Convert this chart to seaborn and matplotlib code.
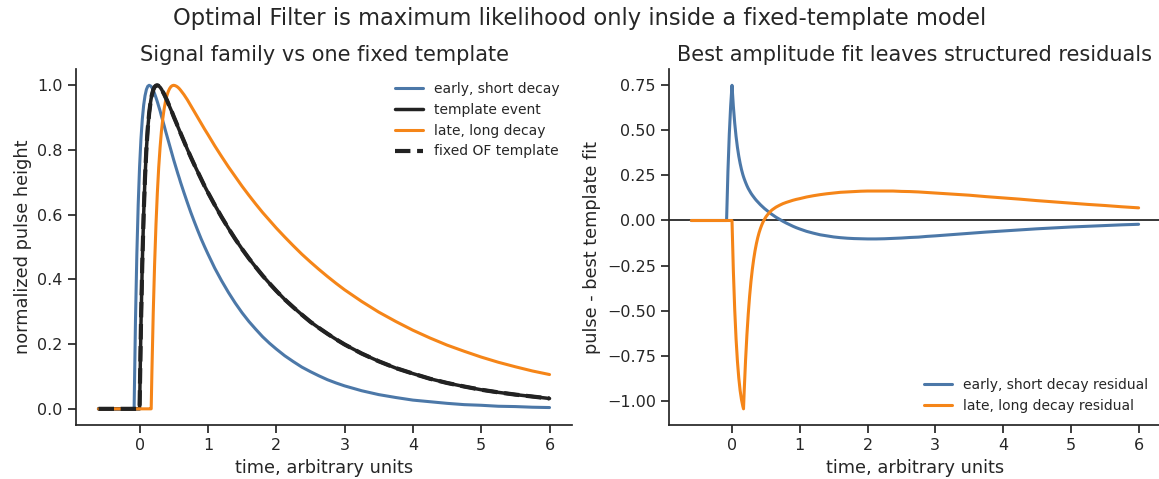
import matplotlib
matplotlib.use("Agg")
import matplotlib.pyplot as plt
import pandas as pd
import seaborn as sns

# Sample times (arbitrary units)
time_points = [-0.6, -0.08, -0.06, -0.04, -0.02, 0.0, 0.02, 0.04, 0.06, 0.08, 0.10, 0.12, 0.14, 0.16, 0.17,
               0.18, 0.20, 0.22, 0.24, 0.26, 0.28, 0.30, 0.32, 0.34, 0.36, 0.38, 0.40, 0.42, 0.44, 0.46, 0.48,
               0.50, 0.52, 0.54, 0.56, 0.58, 0.60, 0.65, 0.70, 0.75, 0.80, 0.85, 0.90, 0.95, 1.0, 1.1, 1.2,
               1.3, 1.4, 1.5, 1.6, 1.7, 1.8, 1.9, 2.0, 2.125, 2.25, 2.375, 2.5, 2.625, 2.75, 2.875, 3.0,
               3.25, 3.5, 3.75, 4.0, 4.25, 4.5, 4.75, 5.0, 5.25, 5.5, 5.75, 6.0]

# Normalized pulse shapes
early_pulse = [0, 0, 0.271, 0.477, 0.632, 0.748, 0.833, 0.895, 0.939, 0.968, 0.987, 0.997, 1.0, 0.998, 0.996,
               0.993, 0.985, 0.974, 0.962, 0.949, 0.935, 0.921, 0.905, 0.890, 0.875, 0.859, 0.844, 0.829, 0.814,
               0.799, 0.784, 0.769, 0.755, 0.741, 0.727, 0.714, 0.700, 0.668, 0.637, 0.607, 0.579, 0.552, 0.526,
               0.502, 0.479, 0.435, 0.396, 0.360, 0.327, 0.297, 0.270, 0.246, 0.223, 0.203, 0.185, 0.164, 0.146,
               0.129, 0.115, 0.102, 0.090, 0.080, 0.071, 0.056, 0.044, 0.035, 0.027, 0.022, 0.017, 0.013, 0.011,
               0.008, 0.007, 0.005, 0.004]
template_pulse = [0, 0, 0, 0, 0, 0, 0.256, 0.453, 0.603, 0.717, 0.803, 0.867, 0.913, 0.947, 0.960,
                  0.970, 0.986, 0.995, 0.999, 1.0, 0.998, 0.994, 0.988, 0.980, 0.972, 0.963, 0.954, 0.944, 0.934,
                  0.924, 0.914, 0.903, 0.893, 0.883, 0.872, 0.862, 0.852, 0.827, 0.802, 0.778, 0.755, 0.733, 0.711,
                  0.689, 0.669, 0.630, 0.593, 0.558, 0.525, 0.494, 0.465, 0.438, 0.412, 0.388, 0.365, 0.338, 0.314,
                  0.291, 0.269, 0.250, 0.232, 0.215, 0.199, 0.171, 0.147, 0.126, 0.109, 0.093, 0.080, 0.069, 0.059,
                  0.051, 0.044, 0.038, 0.032]
late_pulse = [0, 0, 0, 0, 0, 0, 0, 0, 0, 0, 0, 0, 0, 0, 0,
              0.109, 0.296, 0.447, 0.569, 0.667, 0.746, 0.808, 0.858, 0.897, 0.928, 0.951, 0.968, 0.981, 0.990,
              0.996, 0.999, 1.0, 0.999, 0.997, 0.994, 0.990, 0.985, 0.971, 0.955, 0.937, 0.919, 0.901, 0.883,
              0.865, 0.848, 0.813, 0.780, 0.748, 0.718, 0.688, 0.660, 0.633, 0.607, 0.583, 0.559, 0.531, 0.504,
              0.478, 0.454, 0.431, 0.409, 0.388, 0.368, 0.332, 0.299, 0.270, 0.243, 0.219, 0.197, 0.178, 0.160,
              0.144, 0.130, 0.117, 0.106]

# Pulse minus best-amplitude template fit
early_residual = [0, 0, 0.271, 0.477, 0.632, 0.748, 0.632, 0.539, 0.465, 0.405, 0.356, 0.316, 0.282, 0.254, 0.242,
                  0.231, 0.211, 0.193, 0.177, 0.164, 0.151, 0.140, 0.130, 0.120, 0.111, 0.103, 0.095, 0.087, 0.080,
                  0.073, 0.066, 0.060, 0.054, 0.048, 0.042, 0.036, 0.031, 0.018, 0.007, -0.004, -0.014, -0.023,
                  -0.032, -0.040, -0.047, -0.060, -0.070, -0.079, -0.085, -0.091, -0.095, -0.098, -0.100, -0.101,
                  -0.102, -0.102, -0.101, -0.099, -0.097, -0.094, -0.092, -0.088, -0.085, -0.078, -0.071, -0.064,
                  -0.058, -0.052, -0.046, -0.041, -0.036, -0.032, -0.028, -0.024, -0.021]
late_residual = [0, 0, 0, 0, 0, 0, -0.278, -0.492, -0.655, -0.778, -0.871, -0.941, -0.991, -1.028, -1.042,
                 -0.944, -0.774, -0.633, -0.516, -0.418, -0.337, -0.270, -0.214, -0.167, -0.128, -0.095, -0.067,
                 -0.044, -0.024, -0.007, 0.007, 0.020, 0.030, 0.039, 0.047, 0.055, 0.061, 0.074, 0.084, 0.093,
                 0.100, 0.106, 0.112, 0.117, 0.121, 0.130, 0.137, 0.143, 0.148, 0.152, 0.156, 0.158, 0.160, 0.162,
                 0.163, 0.163, 0.163, 0.163, 0.161, 0.160, 0.158, 0.155, 0.152, 0.146, 0.140, 0.132, 0.125, 0.118,
                 0.110, 0.103, 0.096, 0.089, 0.083, 0.076, 0.070]

BLUE = "#4C78A8"
ORANGE = "#F58518"
BLACK = "#222222"

df = pd.DataFrame({
    "t": time_points,
    "early": early_pulse,
    "template": template_pulse,
    "late": late_pulse,
    "early_res": early_residual,
    "late_res": late_residual,
})

sns.set_theme(style="ticks")
plt.rcParams["font.family"] = ["DejaVu Sans"]

fig = plt.figure(figsize=(11.59, 4.79), dpi=100)
ax_left = fig.add_axes([0.0656, 0.1127, 0.428, 0.743])
ax_right = fig.add_axes([0.5772, 0.1127, 0.4245, 0.743])

# Left: signal family and the fixed template
sns.lineplot(data=df, x="t", y="early", ax=ax_left, color=BLUE, lw=2.2, label="early, short decay")
sns.lineplot(data=df, x="t", y="template", ax=ax_left, color=BLACK, lw=2.5, label="template event")
sns.lineplot(data=df, x="t", y="late", ax=ax_left, color=ORANGE, lw=2.2, label="late, long decay")
sns.lineplot(data=df, x="t", y="template", ax=ax_left, color=BLACK, lw=3, linestyle="--",
             label="fixed OF template")

# Right: residuals after the amplitude-only fit
sns.lineplot(data=df, x="t", y="early_res", ax=ax_right, color=BLUE, lw=2.2,
             label="early, short decay residual")
sns.lineplot(data=df, x="t", y="late_res", ax=ax_right, color=ORANGE, lw=2.2,
             label="late, long decay residual")
ax_right.axhline(0, color="black", lw=1.1, zorder=1)

for ax, title in [(ax_left, "Signal family vs one fixed template"),
                  (ax_right, "Best amplitude fit leaves structured residuals")]:
    ax.set_title(title, fontsize=15)
    ax.set_xlabel("time, arbitrary units", fontsize=12.8)
    ax.tick_params(labelsize=11.5)
    ax.set_xticks([0, 1, 2, 3, 4, 5, 6])

ax_left.set_ylabel("normalized pulse height", fontsize=12.8)
ax_right.set_ylabel("pulse - best template fit", fontsize=12.8)
ax_right.set_yticks([0.75, 0.5, 0.25, 0.0, -0.25, -0.5, -0.75, -1.0])

ax_left.legend(loc="upper right", frameon=False, fontsize=10)
ax_right.legend(loc="lower right", frameon=False, fontsize=10)

fig.suptitle("Optimal Filter is maximum likelihood only inside a fixed-template model",
             fontsize=16.3, y=0.985)
sns.despine(fig)
fig.savefig("out.png", dpi=100)
